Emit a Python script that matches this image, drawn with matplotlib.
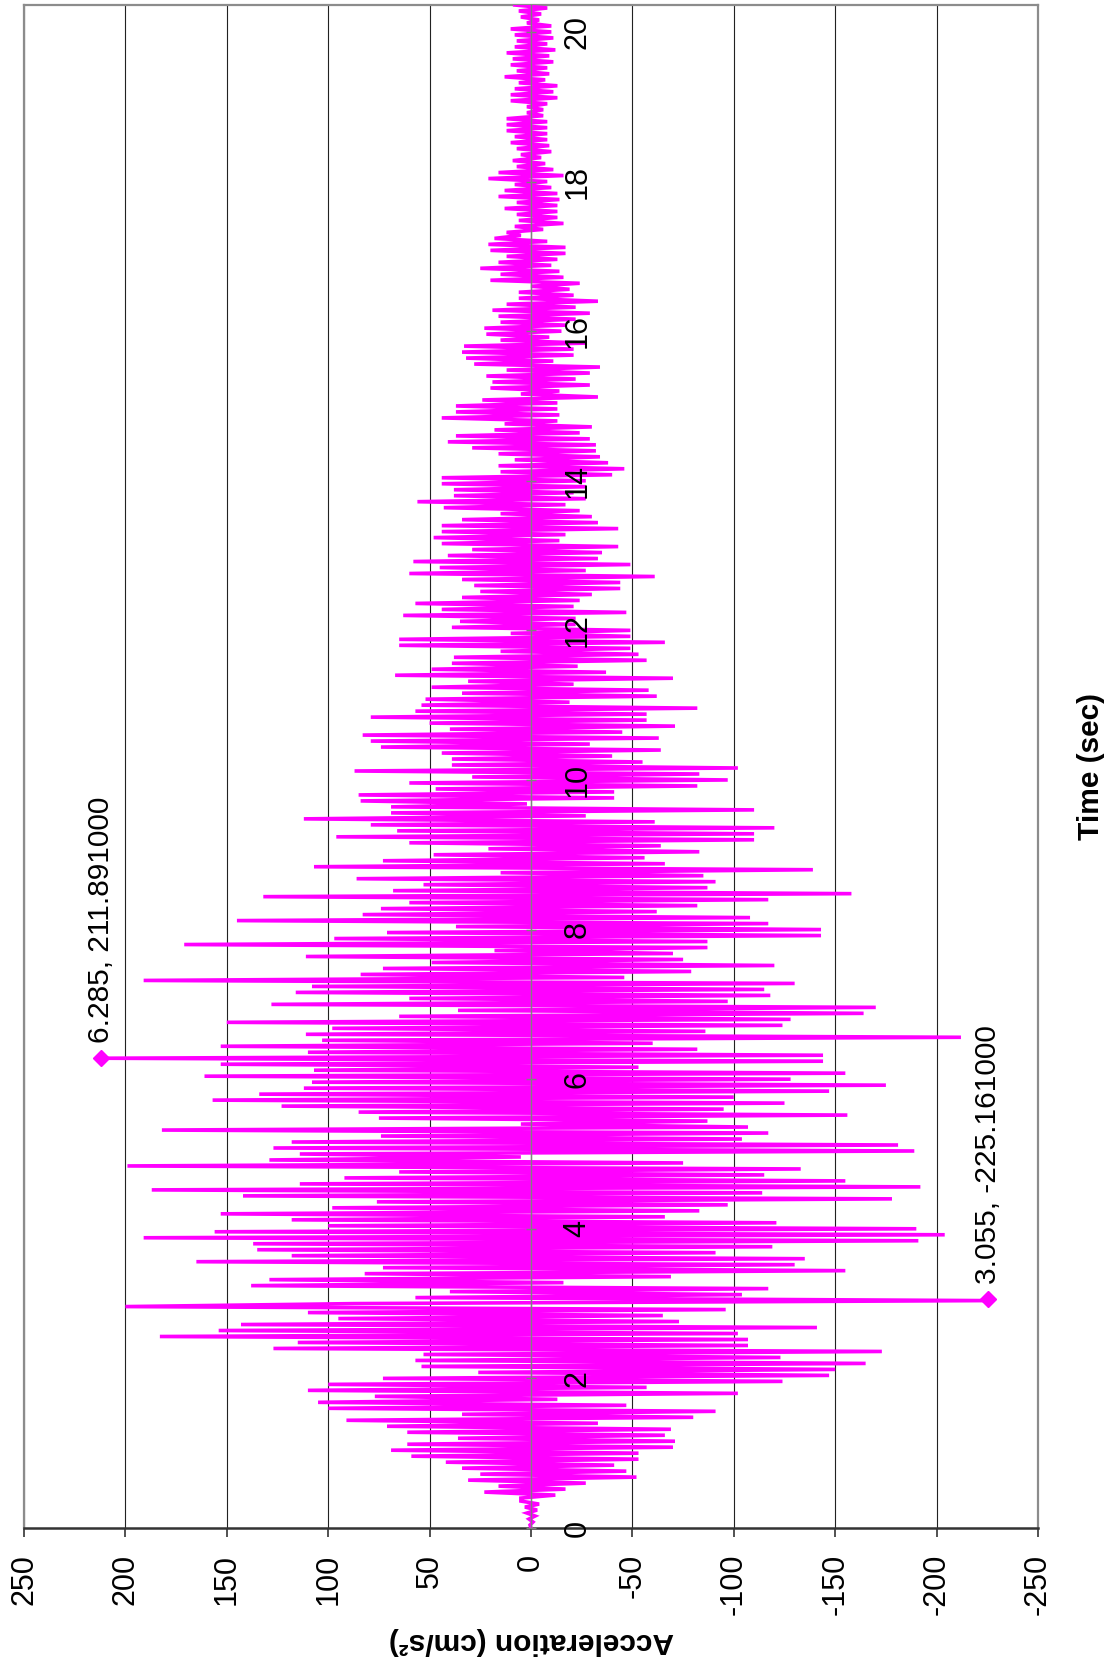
import numpy as np
import matplotlib.pyplot as plt

plt.rcParams['font.family'] = ['Liberation Sans', 'DejaVu Sans']

dt = 0.04
seg_start = [0.00, 3.48, 6.88, 10.28, 13.68, 17.08]

acc_a = [0, 0.5, -1, 1, -2, 2, -3, 3, -4, 5,
         5, -12, 23, -17, 16, -27, 31, -52, 25, -47,
         34, -41, 42, -53, 59, -53, 69, -70, 61, -71,
         36, -66, 61, -69, 71, -33, 91, -80, 34, -91,
         100, -47, 105, -13, 77, -102, 110, -57, 100, -124,
         73, -147, 26, -150, 54, -165, 57, -123, 53, -173,
         127, -107, 115, -107, 183, -102, 154, -141, 143, -73,
         95, -65, 110, -96, 200, 87, -225.161, 57, -104, 40,
         -117, 138, -16, 129, -69, 82, -155]

acc_b = [73, -130, 165, -135, 118, -91, 135, -119, 137, -191,
         191, -204, 156, -190, 100, -121, 118, -66, 153, -83,
         98, -97, 76, -178, 142, -114, 187, -192, 114, -155,
         92, -115, 65, -133, 199, -75, 129, 5, 114, -189,
         127, -181, 118, -104, 74, -117, 182, -107, 5, -87,
         75, -156, 85, -95, 123, -125, 157, -100, 134, -147,
         112, -175, 108, -128, 161, -155, 107, -53, 153, -144,
         211.891, -144, 110, -82, 153, -60, 103, -212, 111, -86,
         98, -124, 150, -128, 65]

acc_c = [-164, 36, -170, 128, -97, 60, -118, 116, -115, 108,
         -130, 191, -46, 84, -79, 73, -120, 49, -75, 111,
         -70, 18, -87, 171, -87, 97, -143, 71, -143, 37,
         -117, 145, -108, 83, -62, 74, -82, 60, -117, 132,
         -158, 68, -87, 53, -91, 86, -85, 15, -139, 107,
         -66, 73, -56, 48, -83, 21, -64, 60, -110, 96,
         -110, 66, -120, 79, -61, 112, -27, 69, -110, 69,
         2, 84, -41, 85, -41, 47, -82, 60, -97, 29,
         -83, 87, -102, 39, -55]

acc_d = [39, -40, 44, -64, 74, -29, 79, -63, 83, -45,
         40, -71, 50, -57, 79, -57, 57, -82, 54, -19,
         52, -62, 34, -58, 49, -21, 31, -70, 67, -37,
         49, -23, 39, -57, 38, -53, 15, -49, 65, -66,
         65, -49, 10, -49, 39, -22, 35, -22, 63, -47,
         44, -21, 57, -24, 34, -30, 25, -44, 28, -44,
         34, -61, 60, -27, 45, -49, 58, -33, 41, -35,
         29, -43, 44, -14, 48, -17, 44, -43, 44, -33,
         34, -30, 15, -24, 43]

acc_e = [-17, 56, -27, 38, -21, 38, -27, 44, -27, 44,
         -40, 15, -46, 16, -38, 8, -34, 16, -32, 29,
         -32, 41, -29, 37, -24, 18, -30, 13, -13, 44,
         -14, 37, -13, 37, -13, 24, -33, 5, -14, 20,
         -29, 19, -22, 22, -29, 12, -34, 28, -11, 32,
         -21, 34, -21, 33, -27, 15, -9, 22, -15, 23,
         -17, 15, -22, 16, -29, 19, -22, 12, -33, 6,
         -21, 6, -19, 0, -24, 20, -16, 15, -14, 25,
         -10, 16, -13, 12, -17]

acc_f = [20, -17, 21, -8, 18, 5, 12, -6, 8, -16,
         6, -13, 7, -13, 13, -13, 7, -14, 16, -13,
         13, -10, 8, -8, 21, -16, 16, -11, 7, -7,
         9, -5, 5, -10, 7, -9, 10, -8, 8, -8,
         12, -8, 12, -8, 12, -6, 2, -6, 2, -8,
         10, -13, 10, -11, 8, -13, 6, -7, 13, -9,
         7, -8, 10, -11, 9, -9, 12, -12, 8, -8,
         7, -11, 8, -10, 10, -10, 2, -4, 5, -5,
         6, -8, 8]

segments = [acc_a, acc_b, acc_c, acc_d, acc_e, acc_f]

acc_ticks = [250, 200, 150, 100, 50, 0, -50, -100, -150, -200, -250]
time_ticks = [0, 2, 4, 6, 8, 10, 12, 14, 16, 18, 20]
peak_time = [6.285, 3.055]
peak_acc = [211.891, -225.161]

time = np.concatenate([s + np.arange(len(v)) * dt for s, v in zip(seg_start, segments)])
acc = np.concatenate([np.array(v, dtype=float) for v in segments])

W, H = 1109, 1669
fig = plt.figure(figsize=(W / 100, H / 100), dpi=100)
ax = fig.add_axes([24 / W, 141 / H, 1014 / W, 1523 / H])

ax.plot(acc, time, color='#FF00FF', lw=2.6, zorder=3, solid_joinstyle='miter')
ax.plot(peak_acc, peak_time, 'D', color='#FF00FF', ms=8, ls='none', zorder=4)
for t, a in zip(peak_time, peak_acc):
    ax.annotate(f"{t}, {a:.6f}", (a, t), xytext=(0, 11), textcoords='offset points',
                rotation=90, ha='center', va='bottom', fontsize=21.5, zorder=5)

ax.set_xlim(250, -250)
ax.set_ylim(0, 20.36)
ax.set_xticks(acc_ticks)
ax.set_xticklabels([str(v) for v in acc_ticks], rotation=90)
ax.tick_params(axis='x', direction='out', length=6.5, width=1.2, color='#333333',
               pad=12, labelsize=22)
ax.set_yticks([])
ax.grid(axis='x', color='#222222', lw=0.8)
ax.set_axisbelow(True)
for side in ['left', 'right', 'top']:
    ax.spines[side].set_color('#8c8c8c')
    ax.spines[side].set_linewidth(1.6)
ax.spines['bottom'].set_color('#333333')
ax.spines['bottom'].set_linewidth(1.8)

# time axis sits on the zero line, drawn over the trace
sec = ax.secondary_yaxis(0.5)
sec.set_zorder(10)
sec.set_yticks(time_ticks)
sec.set_yticklabels([str(v) for v in time_ticks])
sec.tick_params(direction='inout', length=7, width=1, color='#808080', pad=19,
                labelsize=22, labelrotation=90)
for side in ['left', 'right']:
    sec.spines[side].set_color('#808080')
    sec.spines[side].set_linewidth(1.0)
for lab in sec.get_yticklabels():
    lab.set_va('center')

fig.text(531 / W, 1 - 1641 / H, 'Acceleration (cm/s²)', rotation=180, ha='center',
         va='center', fontsize=21.5, fontweight='bold')
fig.text(1091 / W, 1 - 766 / H, 'Time (sec)', rotation=90, ha='center', va='center',
         fontsize=21.5, fontweight='bold')

fig.savefig('out.png', dpi=100)
